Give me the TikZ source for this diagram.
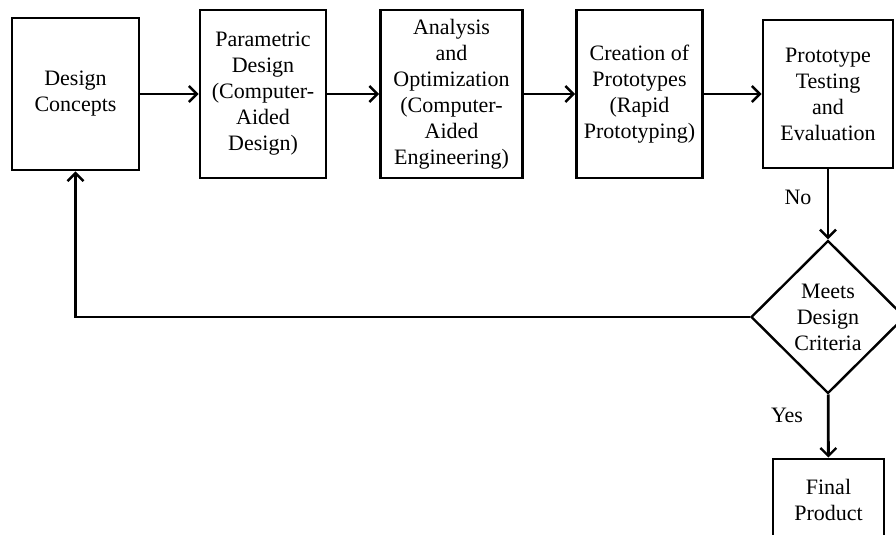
\documentclass[tikz,border=0pt]{standalone}
\usepackage{fontspec}
\setmainfont{Liberation Serif}
\usetikzlibrary{shapes,shapes.geometric,arrows,arrows.meta,positioning}

\begin{document}
\begin{tikzpicture}[x=0.75pt, y=-0.75pt]
			\tikzstyle{Step}	= [rectangle, draw, line width=2.1pt, inner sep=0pt, align=center, font=\fontsize{16.5}{19.5}\selectfont]
			\tikzstyle{Check}	= [diamond, draw, line width=1.8pt, inner sep=0pt, minimum width=154*0.75pt, minimum height=153*0.75pt, align=center, font=\fontsize{16.5}{19.5}\selectfont]
			\tikzstyle{Flow}	= [line width=2.1pt, -{Straight Barb[length=6pt, width=12pt, line width=1.8pt]}]
			\tikzstyle{Tag}		= [font=\fontsize{16.5}{19.5}\selectfont]
			
			\path[use as bounding box, clip] (0,0) rectangle (896,535);
			
			\node (concepts) at (75.5, 94) [Step, minimum width=127*0.75pt, minimum height=152*0.75pt] {Design\\Concepts};
			\node (param) at (263, 94) [Step, minimum width=126*0.75pt, minimum height=168*0.75pt] {Parametric\\Design\\(Computer-\\Aided\\Design)};
			\node (analysis) at (451.5, 94) [Step, minimum width=142*0.75pt, minimum height=168*0.75pt] {Analysis\\and\\Optimization\\(Computer-\\Aided\\Engineering)};
			\node (proto) at (639.5, 94) [Step, minimum width=126*0.75pt, minimum height=168*0.75pt] {Creation of\\Prototypes\\(Rapid\\Prototyping)};
			\node (testing) at (828, 94) [Step, minimum width=130*0.75pt, minimum height=148*0.75pt] {Prototype\\Testing\\and\\Evaluation};
			\node (check) at (828, 317) [Check] {Meets\\Design\\Criteria};
			\node (final) at (828.5, 500) [Step, minimum width=111*0.75pt, minimum height=82*0.75pt] {Final\\Product};
			
			\node (no) at (798, 197) [Tag] {No};
			\node (yes) at (787, 415) [Tag] {Yes};
			
			\draw (concepts) to (param) [Flow];
			\draw (param) to (analysis) [Flow];
			\draw (analysis) to (proto) [Flow];
			\draw (proto) to (testing) [Flow];
			\draw (testing) to (check) [Flow];
			\draw (check) to (final) [Flow];
			
			\draw (check.west) -| (concepts.south) [Flow];
		\end{tikzpicture}
\end{document}
